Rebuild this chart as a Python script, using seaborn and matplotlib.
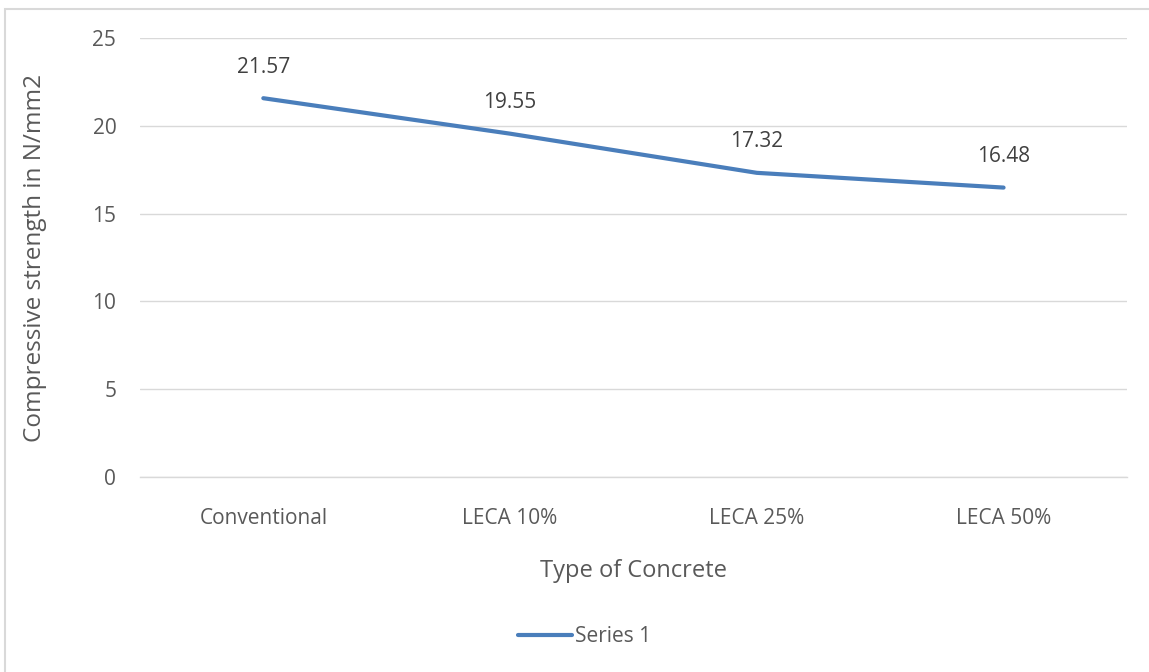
import matplotlib
matplotlib.use("Agg")
import matplotlib.pyplot as plt
import seaborn as sns
import pandas as pd
from matplotlib.patches import Rectangle

sns.set_theme(style="whitegrid")
plt.rcParams['font.family'] = ['Open Sans', 'DejaVu Sans']

# Data
categories = ["Conventional", "LECA 10%", "LECA 25%", "LECA 50%"]
strength = [21.57, 19.55, 17.32, 16.48]
yticks = [0, 5, 10, 15, 20, 25]

df = pd.DataFrame({"Type": categories, "Strength": strength, "Series": "Series 1"})

text_color = "#595959"
line_color = "#4a7ebb"

fig = plt.figure(figsize=(11.49, 6.72), dpi=100)
ax = fig.add_axes([0.1218, 0.2902, 0.859, 0.6533])

sns.lineplot(data=df, x="Type", y="Strength", hue="Series", palette=[line_color],
             linewidth=3, ax=ax, sort=False)

# data labels
for i, v in enumerate(strength):
    ax.annotate(f"{v:.2f}", (i, v), xytext=(0, 22.3), textcoords="offset points",
                ha="center", va="center", fontsize=15, color="#404040")

ax.set_xlim(-0.5, 3.5)
ax.set_ylim(0, 25)
ax.set_yticks(yticks)
ax.grid(axis="y", color="#d9d9d9", linewidth=1)
ax.grid(axis="x", visible=False)
for s in ["top", "right", "left"]:
    ax.spines[s].set_visible(False)
ax.spines["bottom"].set_color("#d9d9d9")
ax.spines["bottom"].set_linewidth(1)
ax.tick_params(axis="both", length=0, labelsize=15, labelcolor=text_color)
ax.tick_params(axis="y", pad=17)
ax.tick_params(axis="x", pad=22)

ax.set_xlabel("Type of Concrete", fontsize=17, color=text_color, labelpad=22)
ax.set_ylabel("Compressive strength in N/mm2", fontsize=17.5, color=text_color, labelpad=33)

ax.legend(loc="center", bbox_to_anchor=(0.5 + 10 / 1149, (672 - 637) / 672), bbox_transform=fig.transFigure,
          frameon=False, fontsize=15, handlelength=2.6, labelcolor=text_color, handletextpad=0.1)

# chart border
fig.patches.append(Rectangle((5 / 1149, -0.01), 1.1, 1 - 9 / 672 + 0.01, transform=fig.transFigure,
                             fill=False, edgecolor="#d9d9d9", linewidth=1.5))

fig.savefig("out.png", dpi=100)
